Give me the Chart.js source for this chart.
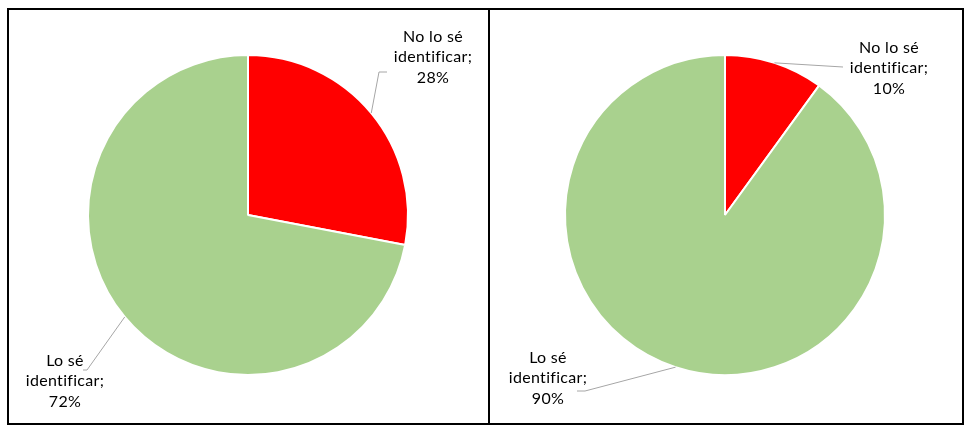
<!DOCTYPE html>
<html>
<head>
<meta charset="utf-8">
<script src="https://cdn.jsdelivr.net/npm/chart.js@4.4.1/dist/chart.umd.min.js"></script>
<style>
  html, body { margin: 0; padding: 0; background: #fff; }
  body { width: 972px; height: 435px; position: relative; overflow: hidden; }
  .caja { position: absolute; top: 8px; height: 417px; border: 2px solid #000; box-sizing: border-box; }
  #cajaIzq { left: 7px; width: 483px; }
  #cajaDer { left: 488px; width: 476px; }
  canvas { display: block; }
</style>
</head>
<body>
<div class="caja" id="cajaIzq"><canvas id="graficoIzq" width="479" height="413"></canvas></div>
<div class="caja" id="cajaDer"><canvas id="graficoDer" width="472" height="413"></canvas></div>

<script>
/* DATOS */
var categorias = ["No lo sé identificar", "Lo sé identificar"];
var lineasCategorias = [["No lo sé", "identificar;"], ["Lo sé", "identificar;"]];
var valoresIzq = [28, 72];
var valoresDer = [10, 90];
var colores = ["#FF0000", "#A9D18E"];
/* DATOS */

// posicion de etiquetas y lineas guia, relativo al centro del pastel (px)
var etiquetasIzq = [
  { dx: 185, dy: -158, codo: [131, -143], fin: [139, -143] },
  { dx: -183, dy: 166, codo: [-161, 155], fin: [-165, 155] }
];
var etiquetasDer = [
  { dx: 164, dy: -147, codo: [118, -148], fin: [118, -148] },
  { dx: -177, dy: 163, codo: [-140, 176], fin: [-148, 176] }
];

var pluginEtiquetas = {
  id: "etiquetasPastel",
  afterDatasetsDraw: function (chart, args, opts) {
    var ctx = chart.ctx;
    var meta = chart.getDatasetMeta(0);
    var valores = chart.data.datasets[0].data;
    var total = valores.reduce(function (a, b) { return a + b; }, 0);
    ctx.save();
    for (var i = 0; i < meta.data.length; i++) {
      var arco = meta.data[i];
      var pos = opts.posiciones[i];
      var medio = (arco.startAngle + arco.endAngle) / 2;
      var bx = arco.x + Math.cos(medio) * arco.outerRadius;
      var by = arco.y + Math.sin(medio) * arco.outerRadius;

      // linea guia
      ctx.strokeStyle = "#A6A6A6";
      ctx.lineWidth = 1;
      ctx.beginPath();
      ctx.moveTo(bx, by);
      ctx.lineTo(arco.x + pos.codo[0], arco.y + pos.codo[1]);
      ctx.lineTo(arco.x + pos.fin[0], arco.y + pos.fin[1]);
      ctx.stroke();

      // texto
      var lineas = lineasCategorias[i].slice();
      lineas.push(Math.round(valores[i] / total * 100) + "%");
      ctx.fillStyle = "#000";
      ctx.font = "16px Lato";
      ctx.letterSpacing = "0.3px";
      ctx.textAlign = "center";
      ctx.textBaseline = "middle";
      for (var j = 0; j < lineas.length; j++) {
        ctx.fillText(lineas[j], arco.x + pos.dx, arco.y + pos.dy + (j - 1) * 20.5);
      }
    }
    ctx.restore();
  }
};

function pastelCrear(idCanvas, valores, posiciones, relleno) {
  var ctx = document.getElementById(idCanvas);
  return new Chart(ctx, {
    type: "pie",
    data: {
      labels: categorias,
      datasets: [{
        data: valores,
        backgroundColor: colores,
        borderColor: "#FFFFFF",
        borderWidth: 2
      }]
    },
    options: {
      responsive: false,
      animation: false,
      devicePixelRatio: 1,
      layout: { padding: relleno },
      plugins: {
        legend: { display: false },
        tooltip: { enabled: false },
        etiquetasPastel: { posiciones: posiciones }
      }
    },
    plugins: [pluginEtiquetas]
  });
}

pastelCrear("graficoIzq", valoresIzq, etiquetasIzq, { top: 44, bottom: 47, left: 0, right: 1 });
pastelCrear("graficoDer", valoresDer, etiquetasDer, { top: 44, bottom: 47, left: 0, right: 2 });
</script>
</body>
</html>
